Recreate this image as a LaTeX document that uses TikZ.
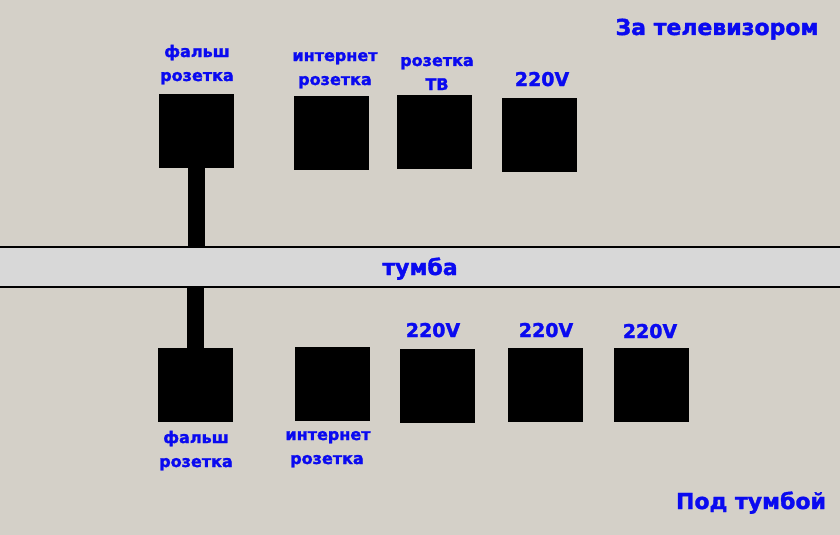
\documentclass[tikz,border=0pt]{standalone}
\usepackage{fontspec}
\setmainfont{DejaVu Sans}[BoldFeatures={FakeBold=1.6}]
\definecolor{wall}{HTML}{D4D0C8}
\definecolor{shelf}{HTML}{D8D8D8}
\definecolor{lblblue}{HTML}{0A0AF0}

\tikzset{
  sock/.style={fill=black, minimum width=75pt, minimum height=74pt, inner sep=0pt},
  lbl/.style={text=lblblue, font=\bfseries\fontsize{16}{16}\selectfont, anchor=base, inner sep=0pt},
  lblv/.style={lbl, font=\bfseries\fontsize{19}{19}\selectfont},
  lblbig/.style={lbl, font=\bfseries\fontsize{22}{22}\selectfont},
  stem/.style={line width=17pt},
}

\begin{document}
\begin{tikzpicture}[x=1pt,y=-1pt]
  \useasboundingbox[fill=wall] (0,0) rectangle (840,535);

  % tumba
  \node[fill=shelf, draw=black, line width=2pt, minimum width=844pt, minimum height=40pt, inner sep=0pt] (tumba) at (420,267) {};
  \node[lblbig] (tumbaTxt) at (420,275) {тумба};

  % behind the TV
  \node[lblbig] (zaTv) at (717,35) {За телевизором};
  \node[sock] (falshTop) at (196.5,131) {};
  \node[sock] (netTop) at (331.5,133) {};
  \node[sock] (tvTop) at (434.5,132) {};
  \node[sock] (powTop) at (539.5,135) {};
  \node[lbl] (falshTopA) at (197,57) {фальш};
  \node[lbl] (falshTopB) at (197,81) {розетка};
  \node[lbl] (netTopA) at (335,61) {интернет};
  \node[lbl] (netTopB) at (335,85) {розетка};
  \node[lbl] (tvTopA) at (437,66) {розетка};
  \node[lbl] (tvTopB) at (437,90) {ТВ};
  \node[lblv] (powTopTxt) at (542,86) {220V};

  % under the tumba
  \node[lblbig] (podTumba) at (751,509) {Под тумбой};
  \node[sock] (falshBot) at (195.5,385) {};
  \node[sock] (netBot) at (332.5,384) {};
  \node[sock] (powBotA) at (437.5,386) {};
  \node[sock] (powBotB) at (545.5,385) {};
  \node[sock] (powBotC) at (651.5,385) {};
  \node[lblv] (powBotAtxt) at (433,337) {220V};
  \node[lblv] (powBotBtxt) at (546,337) {220V};
  \node[lblv] (powBotCtxt) at (650,338) {220V};
  \node[lbl] (falshBotA) at (196,443) {фальш};
  \node[lbl] (falshBotB) at (196,467) {розетка};
  \node[lbl] (netBotA) at (328,440) {интернет};
  \node[lbl] (netBotB) at (327,464) {розетка};

  % fake socket stems
  \draw[stem] (falshTop.south) -- (falshTop.south |- tumba.north);
  \draw[stem] (falshBot.north) -- (falshBot.north |- tumba.south);
\end{tikzpicture}
\end{document}
